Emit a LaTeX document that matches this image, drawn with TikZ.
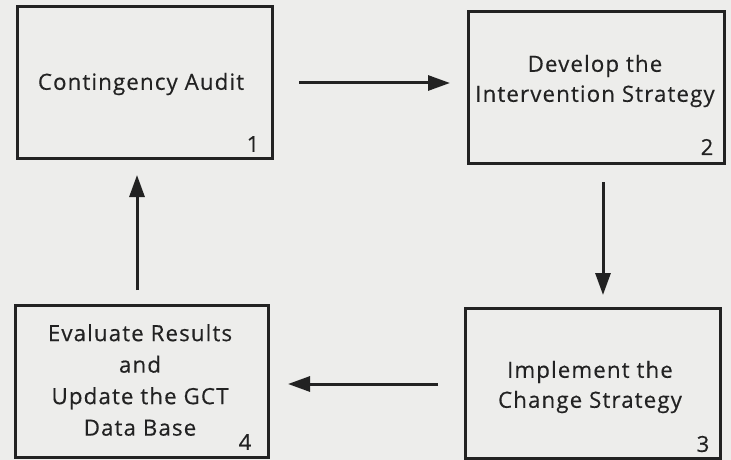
\documentclass[tikz,border=0pt]{standalone}
\usepackage{fontspec}
\setmainfont[LetterSpace=5,FakeBold=0.4]{Open Sans}
\usetikzlibrary{arrows.meta}
\definecolor{bg}{HTML}{EDEDEB}
\definecolor{ink}{HTML}{222222}
\begin{document}
\begin{tikzpicture}[x=1pt,y=-1pt,
  box/.style={draw=ink, line width=3pt, rectangle, inner sep=0pt},
  txt/.style={text=ink, font=\fontsize{22.3}{30}\selectfont, align=center, inner sep=0pt},
  num/.style={text=ink, font=\fontsize{22}{24}\selectfont, inner sep=0pt},
  arr/.style={draw=ink, line width=3pt, -{Triangle[length=22pt,width=15pt]}}]
\fill[bg] (0,0) rectangle (731,460);
\useasboundingbox (0,0) rectangle (731,460);
% boxes
\node[box, minimum width=255pt, minimum height=151pt] (b1) at (145,82.5) {};
\node[box, minimum width=256pt, minimum height=151pt] (b2) at (596.5,87.5) {};
\node[box, minimum width=255pt, minimum height=150pt] (b3) at (592.5,383) {};
\node[box, minimum width=253pt, minimum height=152pt] (b4) at (141.5,381) {};
% texts
\node[txt] (t1) at (141,84) {Contingency Audit};
\node[txt] (t2) at (595,81) {Develop the\\Intervention Strategy};
\node[txt] (t3) at (590,387) {Implement the\\Change Strategy};
\node[txt, font=\fontsize{22.3}{31.5}\selectfont] (t4) at (140,380) {Evaluate Results\\and\\Update the GCT\\Data Base};
% numbers
\node[num] (n1) at (253,144) {1};
\node[num] (n2) at (707,147) {2};
\node[num] (n3) at (703,444) {3};
\node[num] (n4) at (245,442) {4};
% connectors
\coordinate (a1s) at (299,83);
\coordinate (a1e) at (450,83);
\coordinate (a2s) at (603,182);
\coordinate (a2e) at (603,295);
\coordinate (a3s) at (438,384);
\coordinate (a3e) at (288,384);
\coordinate (a4s) at (137,290);
\coordinate (a4e) at (137,175);
\draw[arr] (a1s) -- (a1e);
\draw[arr] (a2s) -- (a2e);
\draw[arr] (a3s) -- (a3e);
\draw[arr] (a4s) -- (a4e);
\end{tikzpicture}
\end{document}
